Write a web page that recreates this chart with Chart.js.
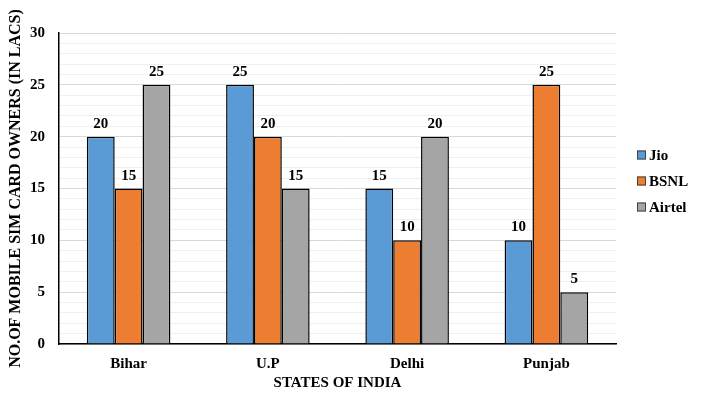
<!DOCTYPE html>
<html>
<head>
<meta charset="utf-8">
<script src="https://cdn.jsdelivr.net/npm/chart.js@4"></script>
<style>
  html, body { margin: 0; padding: 0; background: #fff; }
  #wrap { width: 702px; height: 400px; }
</style>
</head>
<body>
<div id="wrap"><canvas id="simChart" width="702" height="400"></canvas></div>
<script>
const states = ['Bihar', 'U.P', 'Delhi', 'Punjab'];
const jio = [20, 25, 15, 10];
const bsnl = [15, 20, 10, 25];
const airtel = [25, 15, 20, 5];
const yTicks = [0, 5, 10, 15, 20, 25, 30];

const FONT = "'Liberation Serif', 'Times New Roman', serif";

// draw the value above each bar
const barLabels = {
    id: 'barLabels',
    afterDatasetsDraw(chart) {
        const c = chart.ctx;
        c.save();
        c.font = 'bold 15px ' + FONT;
        c.fillStyle = '#000';
        c.textAlign = 'center';
        c.textBaseline = 'alphabetic';
        chart.data.datasets.forEach((ds, i) => {
            chart.getDatasetMeta(i).data.forEach((bar, j) => {
                c.fillText(String(ds.data[j]), bar.x, bar.y - 9);
            });
        });
        c.restore();
    }
};

// legend on the right, beside the plot
const sideLegend = {
    id: 'sideLegend',
    afterDraw(chart) {
        const c = chart.ctx;
        const area = chart.chartArea;
        const x = area.right + 21;
        const y0 = 155;
        const gap = 26;
        c.save();
        c.font = 'bold 15px ' + FONT;
        c.textBaseline = 'middle';
        c.textAlign = 'left';
        chart.data.datasets.forEach((ds, i) => {
            const y = y0 + i * gap;
            c.fillStyle = ds.backgroundColor;
            c.fillRect(x, y - 4.5, 9, 9);
            c.strokeStyle = '#404040';
            c.lineWidth = 1;
            c.strokeRect(x + 0.5, y - 4, 8, 8);
            c.fillStyle = '#000';
            c.fillText(ds.label, x + 12, y + 1);
        });
        c.restore();
    }
};

new Chart(document.getElementById('simChart'), {
    type: 'bar',
    data: {
        labels: states,
        datasets: [
            { label: 'Jio', data: jio, backgroundColor: '#5B9BD5', borderColor: '#000', borderWidth: 1.5 },
            { label: 'BSNL', data: bsnl, backgroundColor: '#ED7D31', borderColor: '#000', borderWidth: 1.5 },
            { label: 'Airtel', data: airtel, backgroundColor: '#A5A5A5', borderColor: '#000', borderWidth: 1.5 }
        ]
    },
    options: {
        responsive: false,
        animation: false,
        categoryPercentage: 0.6,
        barPercentage: 1,
        layout: { padding: { top: 33, right: 86, left: 6, bottom: 8 } },
        scales: {
            x: {
                afterFit(axis) {
                    axis.height = 48;
                },
                grid: { display: false, drawTicks: false },
                border: { display: true, color: '#000', width: 1.5 },
                ticks: { color: '#000', font: { family: FONT, size: 15, weight: 'bold' }, padding: 11 },
                title: {
                    display: true,
                    text: 'STATES OF INDIA',
                    color: '#000',
                    font: { family: FONT, size: 15, weight: 'bold' },
                    padding: { top: 1, bottom: 0 }
                }
            },
            y: {
                min: 0,
                max: 30,
                afterBuildTicks(axis) {
                    // minor lines every 1, labels only on yTicks
                    const t = [];
                    for (let v = 0; v <= 30; v++) t.push({ value: v });
                    axis.ticks = t;
                },
                afterFit(axis) {
                    axis.width = 53;
                },
                grid: {
                    drawTicks: false,
                    color: (ctx) => yTicks.includes(ctx.tick.value) ? '#d9d9d9' : '#efefef'
                },
                border: { display: true, color: '#000', width: 1.5 },
                ticks: {
                    color: '#000',
                    font: { family: FONT, size: 15, weight: 'bold' },
                    padding: 14,
                    autoSkip: false,
                    callback: (v) => yTicks.includes(v) ? String(v) : ''
                },
                title: {
                    display: true,
                    text: 'NO.OF MOBILE SIM CARD OWNERS (IN LACS)',
                    color: '#000',
                    font: { family: FONT, size: 16, weight: 'bold' },
                    padding: { top: 0, bottom: 6 }
                }
            }
        },
        plugins: {
            legend: { display: false },
            tooltip: { enabled: false }
        }
    },
    plugins: [barLabels, sideLegend]
});
</script>
</body>
</html>
